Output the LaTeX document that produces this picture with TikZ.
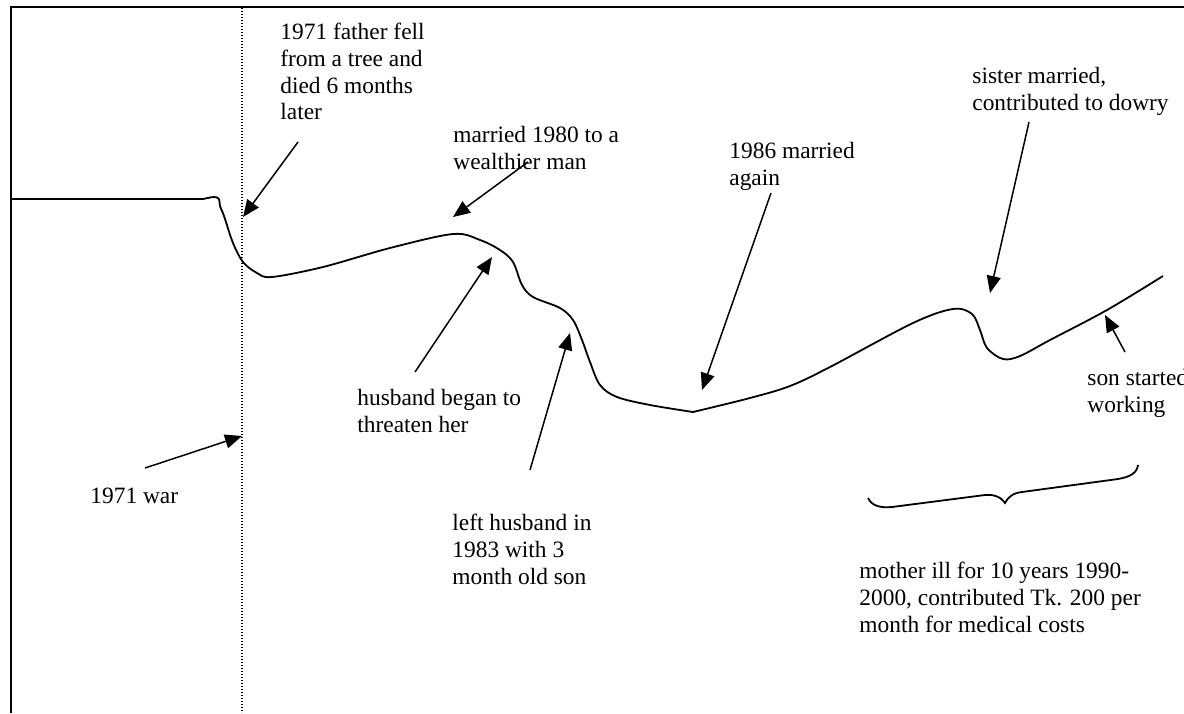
\documentclass[tikz,border=0pt]{standalone}
\usepackage{fontspec}
\setmainfont{Liberation Serif}
\usetikzlibrary{arrows.meta}

\begin{document}
\begin{tikzpicture}[x=0.5pt, y=-0.5pt,
    okvir/.style={line width=1pt, draw=black},
    linija/.style={line width=0.9pt, draw=black, line join=round},
    tacke/.style={line width=0.7pt, draw=black, dash pattern=on 0.6pt off 0.9pt},
    ukras/.style={line width=0.9pt, draw=black},
    strela/.style={-{Triangle[length=8.5pt, width=7pt]}, line width=0.75pt, draw=black},
    opis/.style={anchor=north west, inner sep=0pt, align=left,
                 font=\fontsize{11.7}{13.3}\selectfont}]

    \useasboundingbox (0,0) rectangle (1184,713);

    % ---------------- okvir ----------------
    \draw [okvir] (1184,7) -- (11,7) -- (11,713);
    \draw [tacke] (242,8) -- (242,713);

    % ---------------- linija zivota ----------------
    \draw [linija] (11,199) -- (203,199)
        plot [smooth, tension=0.55] coordinates {(203,199) (214,197) (219,199) (220,206) (224,216)
            (233,243) (243,262) (257,273) (272,277) (323,267) (390,248) (453,234) (480,240)
            (500,250) (513,262) (522,285) (533,297) (560,308) (573,320) (582,340) (590,362)
            (600,385) (617,397) (650,405) (693,412)};
    \draw [linija] plot [smooth, tension=0.55] coordinates {(693,412) (750,398) (790,386) (830,367)
            (913,323) (953,309) (972,314) (980,330) (987,348) (1003,359) (1020,356) (1050,340)
            (1107,310) (1163,276)};

    % ---------------- natpisi ----------------
    \node (fell)     [opis] at (280,23)  {1971 father fell\\ from a tree and\\ died 6 months\\ later};
    \node (wed)      [opis] at (453,126) {married 1980 to a\\ wealthier man};
    \node (again)    [opis] at (729,142) {1986 married\\ again};
    \node (sister)   [opis] at (972,67)  {sister married,\\ contributed to dowry};
    \node (threat)   [opis] at (357,389) {husband began to\\ threaten her};
    \node (leftHusb) [opis] at (452,514) {left husband in\\ 1983 with 3\\ month old son};
    \node (war)      [opis] at (90,488)  {1971 war};
    \node (son)      [opis] at (1087,369) {son started\\ working};
    \node (mother)   [opis] at (859,562) {mother ill for 10 years 1990-\\ 2000, contributed Tk. 200 per\\ month for medical costs};

    % ---------------- krajevi strelica ----------------
    \coordinate (fellA)   at (298,142);  \coordinate (fellB)   at (243,217);
    \coordinate (wedA)    at (528,162);  \coordinate (wedB)    at (453,217);
    \coordinate (threatA) at (415,372);  \coordinate (threatB) at (492,257);
    \coordinate (leftA)   at (530,470);  \coordinate (leftB)   at (570,333);
    \coordinate (againA)  at (771,193);  \coordinate (againB)  at (702,390);
    \coordinate (sisterA) at (1029,122); \coordinate (sisterB) at (990,293);
    \coordinate (sonA)    at (1125,352); \coordinate (sonB)    at (1105,315);
    \coordinate (warA)    at (145,468);  \coordinate (warB)    at (242,436);

    % ---------------- strelice ----------------
    \draw [strela] (fellA) -- (fellB);
    \draw [strela] (wedA) -- (wedB);
    \draw [strela] (threatA) -- (threatB);
    \draw [strela] (leftA) -- (leftB);
    \draw [strela] (againA) -- (againB);
    \draw [strela] (sisterA) -- (sisterB);
    \draw [strela] (sonA) -- (sonB);
    \draw [strela] (warA) -- (warB);

    % ---------------- zagrada ----------------
    \draw [ukras] (868,498) .. controls (872,506) and (880,508) .. (892,507) -- (985,495)
        .. controls (995,494) and (1002,498) .. (1005,503)
        .. controls (1008,497) and (1013,493) .. (1022,492) -- (1118,479)
        .. controls (1130,477) and (1137,473) .. (1138,465);
\end{tikzpicture}
\end{document}
